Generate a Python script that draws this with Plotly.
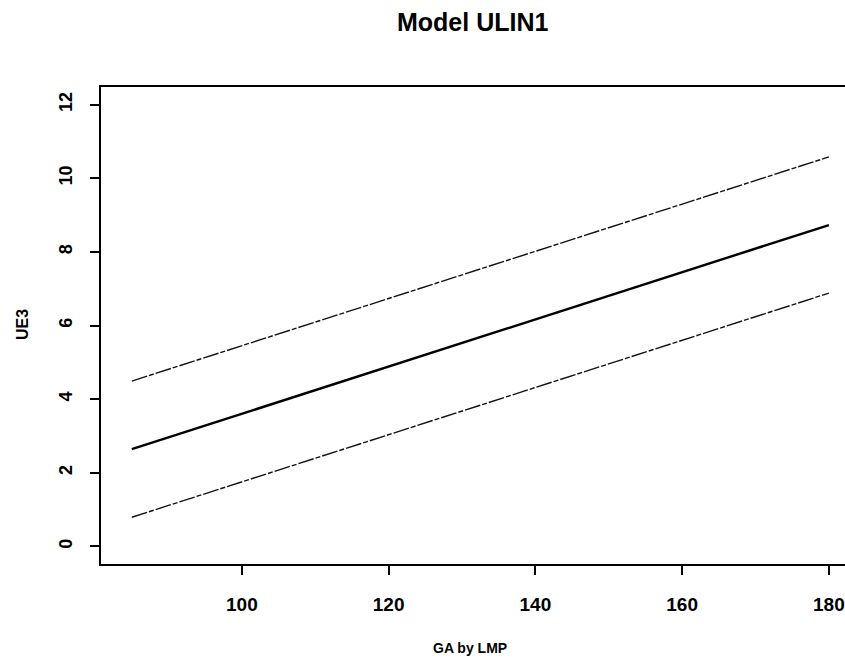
import plotly.graph_objects as go

# Data
ga = [85, 100, 120, 140, 160, 180]
fit = [2.64, 3.60, 4.88, 6.17, 7.45, 8.73]
upper = [4.49, 5.45, 6.73, 8.02, 9.30, 10.58]
lower = [0.79, 1.75, 3.03, 4.32, 5.60, 6.88]
x_ticks = [100, 120, 140, 160, 180]
y_ticks = [0, 2, 4, 6, 8, 10, 12]

FONT = "Liberation Sans, Arial, sans-serif"

# plot area in pixels
L, R, T, B = 101, 845, 87, 564


def px(xp):
    return (xp - L) / (R - L)


def py(yp):
    return (B - yp) / (B - T)


fig = go.Figure()
fig.add_trace(go.Scatter(x=ga, y=upper, mode="lines",
                         line=dict(color="#111", width=1.4, dash="16px,2px,5px,2px"),
                         showlegend=False))
fig.add_trace(go.Scatter(x=ga, y=fit, mode="lines",
                         line=dict(color="#000", width=2.4),
                         showlegend=False))
fig.add_trace(go.Scatter(x=ga, y=lower, mode="lines",
                         line=dict(color="#111", width=1.4, dash="16px,2px,5px,2px"),
                         showlegend=False))

fig.update_layout(
    width=845, height=661,
    margin=dict(l=L, r=845 - R, t=T, b=661 - B),
    paper_bgcolor="white", plot_bgcolor="white",
    font=dict(family=FONT, color="#000"),
    xaxis=dict(range=[80.8, 182.2], tickvals=x_ticks, ticks="outside", ticklen=9,
               tickwidth=1.5, tickcolor="#000", showline=True, mirror=True,
               linecolor="#000", linewidth=2, showgrid=False, zeroline=False,
               tickfont=dict(size=19, weight="bold"), ticklabelstandoff=13),
    yaxis=dict(range=[-0.48, 12.48], tickvals=y_ticks, ticks="outside", ticklen=9,
               tickwidth=1.5, tickcolor="#000", showline=True, mirror=False,
               linecolor="#000", linewidth=2, showgrid=False, zeroline=False,
               tickangle=-90, tickfont=dict(size=18, weight="bold"),
               ticklabelstandoff=11),
    annotations=[
        dict(text="Model ULIN1", x=px(472), y=py(22), xref="paper", yref="paper",
             xanchor="center", yanchor="middle", showarrow=False,
             font=dict(size=25, weight="bold", family=FONT)),
        dict(text="GA by LMP", x=px(470), y=py(648), xref="paper", yref="paper",
             xanchor="center", yanchor="middle", showarrow=False,
             font=dict(size=14, weight="bold", family=FONT)),
        dict(text="UE3", x=px(22), y=py(325), xref="paper", yref="paper",
             xanchor="center", yanchor="middle", showarrow=False, textangle=-90,
             font=dict(size=16, weight="bold", family=FONT)),
    ],
)

fig.write_html("out.html")
